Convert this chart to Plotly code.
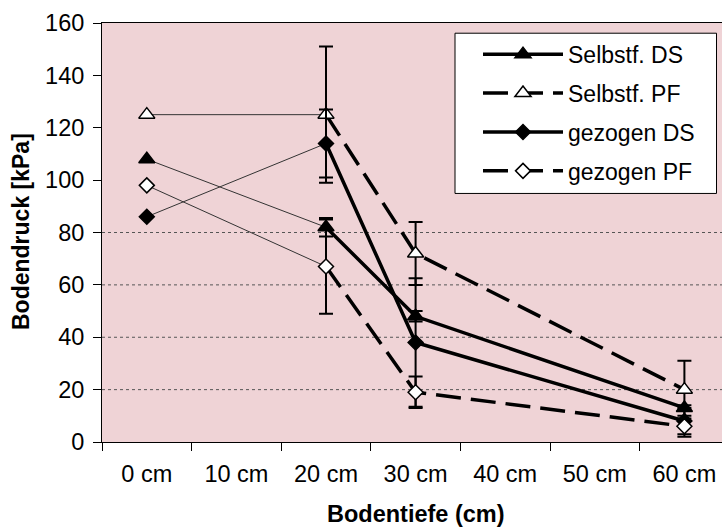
import plotly.graph_objects as go

# ---------------- data ----------------
categories = ["0 cm", "10 cm", "20 cm", "30 cm", "40 cm", "50 cm", "60 cm"]
depths = ["0 cm", "20 cm", "30 cm", "60 cm"]

series_names = ["Selbstf. DS", "Selbstf. PF", "gezogen DS", "gezogen PF"]
selbst_ds = [108, 82, 48, 13]
selbst_pf = [125, 125, 72, 20]
gezogen_ds = [86, 114, 38, 8]
gezogen_pf = [98, 67, 19, 6]

# error bars (first point has none)
selbst_ds_err = [0, 3.5, 2, 1]
selbst_pf_err = [0, 26, 12, 11]
gezogen_ds_err = [0, 13, 24.5, 5]
gezogen_pf_err = [0, 18, 6, 4]

y_ticks = [0, 20, 40, 60, 80, 100, 120, 140, 160]
grid_levels = [20, 40, 60, 80]

# ---------------- styles ----------------
FONT = "Liberation Sans, Arial, sans-serif"
BG = "#EFD3D6"
styles = [
    dict(symbol="triangle-up", fill="black", dash="solid", size=14),
    dict(symbol="triangle-up", fill="white", dash="25px,10px", size=14),
    dict(symbol="diamond", fill="black", dash="solid", size=11.5),
    dict(symbol="diamond", fill="white", dash="25px,10px", size=11.5),
]
values = [selbst_ds, selbst_pf, gezogen_ds, gezogen_pf]
errors = [selbst_ds_err, selbst_pf_err, gezogen_ds_err, gezogen_pf_err]

fig = go.Figure()

for name, vals, errs, st in zip(series_names, values, errors, styles):
    marker = dict(symbol=st["symbol"], size=st["size"], color=st["fill"],
                  line=dict(color="black", width=1.5))
    # thin connecting line 0 cm -> 20 cm
    fig.add_trace(go.Scatter(
        x=depths[:2], y=vals[:2], mode="lines",
        line=dict(color="#333333", width=1),
        legendgroup=name, showlegend=False, hoverinfo="skip"))
    # thick line 20 cm -> 60 cm with error bars
    fig.add_trace(go.Scatter(
        x=depths[1:], y=vals[1:], mode="lines+markers", name=name,
        line=dict(color="black", width=3.5, dash=st["dash"]),
        marker=marker, legendgroup=name,
        error_y=dict(type="data", array=errs[1:], visible=True,
                     color="black", thickness=2, width=7)))
    # marker at 0 cm
    fig.add_trace(go.Scatter(
        x=depths[:1], y=vals[:1], mode="markers", marker=marker,
        legendgroup=name, showlegend=False))

shapes = []
for g in grid_levels:
    shapes.append(dict(type="line", xref="paper", yref="y", x0=0, x1=1, y0=g, y1=g,
                       line=dict(color="#555555", width=1, dash="dot"), layer="below"))
# legend box
L, R, T, B = 102, 722, 23.3, 441.7
def px(x):
    return (x - L) / (R - L)
def py(y):
    return (B - y) / (B - T)
shapes.append(dict(type="rect", xref="paper", yref="paper",
                   x0=px(455), x1=px(716.5), y0=py(193.5), y1=py(33.5),
                   line=dict(color="black", width=1), fillcolor="white", layer="above"))

fig.update_layout(
    width=722, height=527,
    margin=dict(l=L, r=0, t=T, b=527 - B),
    paper_bgcolor="white", plot_bgcolor=BG,
    font=dict(family=FONT, size=23, color="black"),
    shapes=shapes,
    showlegend=True,
    legend=dict(x=px(478), y=py(33), xanchor="left", yanchor="top",
                bgcolor="rgba(0,0,0,0)", borderwidth=0,
                itemwidth=80, tracegroupgap=6,
                font=dict(family=FONT, size=23, color="black")),
    xaxis=dict(type="category", categoryorder="array", categoryarray=categories,
               range=[-0.5, -0.5 + (R - L) / 89.6],
               tickson="boundaries", ticks="outside", ticklen=8, tickcolor="black",
               showline=True, linecolor="black", linewidth=1, mirror=True,
               showgrid=False, zeroline=False, ticklabelstandoff=11,
               tickfont=dict(family=FONT, size=23.5)),
    yaxis=dict(range=[0, 160], tickvals=y_ticks, ticks="outside", ticklen=8,
               tickcolor="black", showline=True, linecolor="black", linewidth=1,
               showgrid=False, zeroline=False, ticklabelstandoff=4,
               tickfont=dict(family=FONT, size=23.5)),
    annotations=[
        dict(text="<b>Bodendruck [kPa]</b>", xref="paper", yref="paper",
             x=px(21), y=py(232), textangle=-90, showarrow=False,
             xanchor="center", yanchor="middle",
             font=dict(family=FONT, size=23)),
        dict(text="<b>Bodentiefe (cm)</b>", xref="paper", yref="paper",
             x=px(416), y=py(514), showarrow=False,
             xanchor="center", yanchor="middle",
             font=dict(family=FONT, size=23.5)),
    ],
)

fig.write_html("out.html")
